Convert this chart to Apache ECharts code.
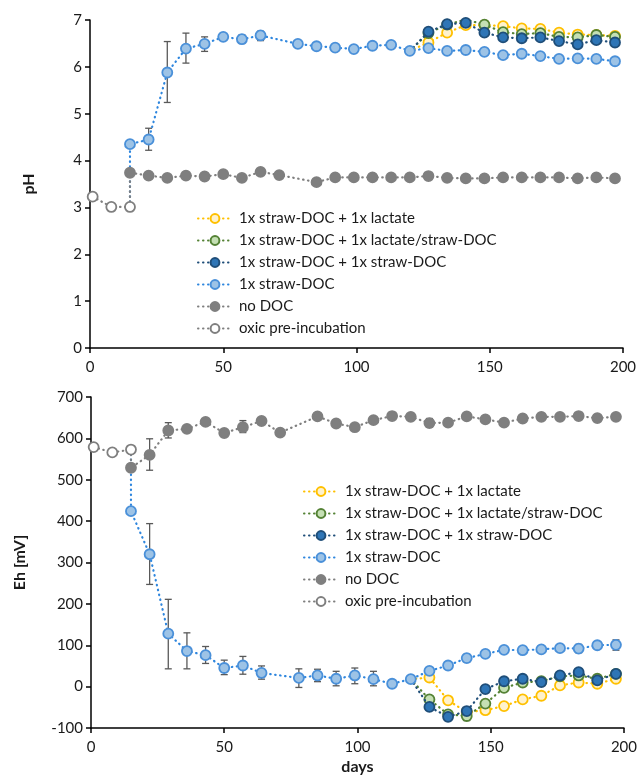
<!DOCTYPE html>
<html><head><meta charset="utf-8">
<script src="https://cdn.jsdelivr.net/npm/echarts@6/dist/echarts.min.js"></script>
<style>html,body{margin:0;padding:0;background:#fff}#c{width:640px;height:783px}</style>
</head><body><div id="c"></div>
<script>
// ---- data ----
const seriesNames = ['1x straw-DOC + 1x lactate','1x straw-DOC + 1x lactate/straw-DOC','1x straw-DOC + 1x straw-DOC','1x straw-DOC','no DOC','oxic pre-incubation'];

const oxicDays = [1, 8, 15];
const oxicPH = [3.23, 3.01, 3.01];
const oxicEh = [579, 566, 573];

const noDocDays = [15,22,29,36,43,50,57,64,71,85,92,99,106,113,120,127,134,141,148,155,162,169,176,183,190,197];
const noDocPH = [3.74,3.68,3.63,3.68,3.66,3.71,3.63,3.76,3.69,3.54,3.64,3.64,3.64,3.64,3.64,3.67,3.63,3.62,3.62,3.64,3.64,3.64,3.64,3.62,3.64,3.62];
const noDocEh = [529,560,619,623,640,613,627,642,614,653,636,627,644,654,652,637,638,653,646,638,648,652,652,654,649,652];

const strawDays = [15,22,29,36,43,50,57,64,78,85,92,99,106,113,120,127,134,141,148,155,162,169,176,183,190,197];
const strawPH = [4.35,4.45,5.88,6.39,6.49,6.64,6.59,6.67,6.49,6.44,6.41,6.38,6.45,6.47,6.34,6.40,6.34,6.36,6.32,6.25,6.28,6.23,6.17,6.18,6.17,6.12];
const strawEh = [424,320,128,86,76,45,51,33,21,27,19,27,18,7,18,38,51,69,79,89,88,90,93,92,100,101];

const treatDays = [120,127,134,141,148,155,162,169,176,183,190,197];
const lactatePH = [6.34,6.52,6.73,6.89,6.89,6.87,6.82,6.81,6.73,6.69,6.68,6.66];
const lacStrawPH = [6.34,6.72,6.90,7.01,6.90,6.74,6.70,6.72,6.64,6.63,6.68,6.64];
const strawStrawPH = [6.34,6.75,6.91,6.94,6.73,6.63,6.61,6.63,6.55,6.48,6.57,6.52];
const lactateEh = [18,22,-33,-62,-57,-47,-31,-22,3,10,7,19];
const lacStrawEh = [18,-31,-67,-71,-41,-3,10,13,25,27,19,31];
const strawStrawEh = [18,-49,-73,-59,-6,13,19,11,27,35,15,31];

// error bars [day, low, high]
const errPH = [[22,4.22,4.69],[29,5.24,6.54],[36,6.08,6.72],[43,6.33,6.64],[57,6.50,6.68],[64,6.56,6.76]];
const errEh = [[22,523,599],[29,601,638],[57,614,643],[127,627,648],
  [22,247,394],[29,43,211],[36,43,130],[43,56,97],[50,29,64],[57,30,73],[64,18,50],[78,-2,43],[85,12,42],[92,2,37],[99,7,45],[106,2,37],[141,60,78],[183,82,102],[197,88,113],
  [134,-82,-64],[141,-82,-62]];

const yTicksPH = [0,7,1];
const yTicksEh = [-100,700,100];
const xTicks = [0,200,50];

// ---- styles ----
const styles = [
  {line:'#FFC000', fill:'#FFF2CC', border:'#FFC000'},
  {line:'#548235', fill:'#C5E0B4', border:'#548235'},
  {line:'#1F4E79', fill:'#2E75B6', border:'#1F4E79'},
  {line:'#2E86DE', fill:'#9DC3E6', border:'#4A90D9'},
  {line:'#7F7F7F', fill:'#7F7F7F', border:'#7F7F7F'},
  {line:'#7F7F7F', fill:'#FFFFFF', border:'#7F7F7F'}
];
const zip = (xs, ys) => xs.map((x,i)=>[x, ys[i]]);
const hidden = (pt) => ({value: pt, symbol:'none'});

function mk(idx, data, axisIdx) {
  const s = styles[idx];
  return {
    name: seriesNames[idx], type:'line', xAxisIndex: axisIdx, yAxisIndex: axisIdx,
    data, symbol:'circle', symbolSize:10, showSymbol:true, animation:false,
    lineStyle:{color:s.line, width:2.2, type:[0.5,4.5], cap:'round'},
    itemStyle:{color:s.fill, borderColor:s.border, borderWidth:1.8},
    emphasis:{disabled:true}, z: 3 + idx*0.01
  };
}
function errRender(params, api) {
  const x = api.value(0), lo = api.value(1), hi = api.value(2);
  const p1 = api.coord([x, hi]), p2 = api.coord([x, lo]);
  const w = 3.5, st = {stroke:'#595959', lineWidth:1.3};
  return {type:'group', children:[
    {type:'line', shape:{x1:p1[0],y1:p1[1],x2:p2[0],y2:p2[1]}, style:st},
    {type:'line', shape:{x1:p1[0]-w,y1:p1[1],x2:p1[0]+w,y2:p1[1]}, style:st},
    {type:'line', shape:{x1:p2[0]-w,y1:p2[1],x2:p2[0]+w,y2:p2[1]}, style:st}
  ]};
}

function buildSeries(axisIdx, oxY, ndY, stY, laY, lsY, ssY) {
  const oxLast = [oxicDays[oxicDays.length-1], oxY[oxY.length-1]];
  const stAt120 = [treatDays[0], stY[strawDays.indexOf(treatDays[0])]];
  return [
    mk(0, [hidden(stAt120)].concat(zip(treatDays.slice(1), laY.slice(1))), axisIdx),
    mk(1, [hidden(stAt120)].concat(zip(treatDays.slice(1), lsY.slice(1))), axisIdx),
    mk(2, [hidden(stAt120)].concat(zip(treatDays.slice(1), ssY.slice(1))), axisIdx),
    mk(3, [hidden(oxLast)].concat(zip(strawDays, stY)), axisIdx),
    mk(4, [hidden(oxLast)].concat(zip(noDocDays, ndY)), axisIdx),
    mk(5, zip(oxicDays, oxY), axisIdx)
  ];
}

const font = 'Lato, "Open Sans", sans-serif';
const txt = '#1a1a1a';
function xAx(gi, showName) {
  return {gridIndex: gi, type:'value', min:xTicks[0], max:xTicks[1], interval:xTicks[2],
    name: showName ? 'days' : '', nameLocation:'middle', nameGap:31,
    nameTextStyle:{fontFamily:font, fontSize:16, fontWeight:'bold', color:txt},
    axisLine:{onZero:false, lineStyle:{color:'#000', width:1.5}},
    axisTick:{show:true, inside:false, length:5, lineStyle:{color:'#000', width:1.5}},
    axisLabel:{fontFamily:font, fontSize:15, color:txt, margin:12},
    splitLine:{show:false}};
}
function yAx(gi, t, name, gap) {
  return {gridIndex: gi, type:'value', min:t[0], max:t[1], interval:t[2],
    name, nameLocation:'middle', nameGap:gap,
    nameTextStyle:{fontFamily:font, fontSize:16, fontWeight:'bold', color:txt},
    axisLine:{show:true, lineStyle:{color:'#000', width:1.5}},
    axisTick:{show:true, inside:false, length:5, lineStyle:{color:'#000', width:1.5}},
    axisLabel:{fontFamily:font, fontSize:15, color:txt, margin:8},
    splitLine:{show:false}};
}
function legend(left, top) {
  return {data: seriesNames, orient:'vertical', left, top, itemWidth:34, itemHeight:11, itemGap:7,
    textStyle:{fontFamily:font, fontSize:15, color:txt, padding:[0,0,0,2]}, selectedMode:false, padding:0};
}

const option = {
  animation:false,
  backgroundColor:'#fff',
  grid:[{left:90, right:17, top:20, bottom:435},{left:91, right:16, top:397, bottom:55}],
  xAxis:[xAx(0,false), xAx(1,true)],
  yAxis:[yAx(0, yTicksPH, 'pH', 53), yAx(1, yTicksEh, 'Eh [mV]', 63)],
  legend:[legend(197, 211), legend(303, 484)],
  series: [
    {type:'custom', xAxisIndex:0, yAxisIndex:0, renderItem:errRender, data:errPH, z:2, silent:true},
    {type:'custom', xAxisIndex:1, yAxisIndex:1, renderItem:errRender, data:errEh, z:2, silent:true}
  ].concat(buildSeries(0, oxicPH, noDocPH, strawPH, lactatePH, lacStrawPH, strawStrawPH))
   .concat(buildSeries(1, oxicEh, noDocEh, strawEh, lactateEh, lacStrawEh, strawStrawEh))
};
const chart = echarts.init(document.getElementById('c'), null, {renderer:'canvas'});
chart.setOption(option);
</script></body></html>
